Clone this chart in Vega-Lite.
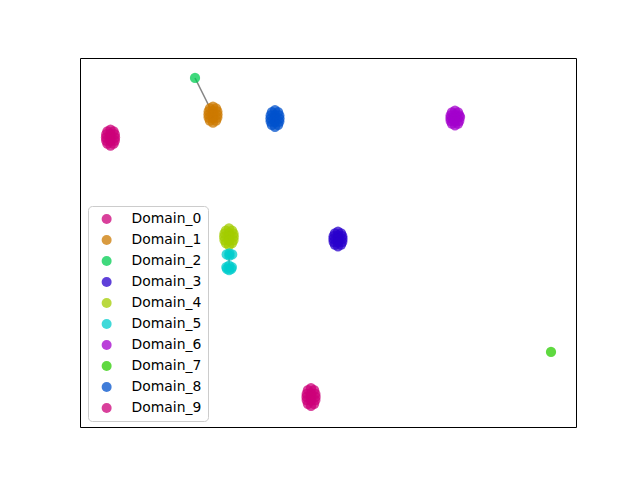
{
  "$schema": "https://vega.github.io/schema/vega-lite/v6.json",
  "width": 496,
  "height": 369,
  "autosize": {"type": "none"},
  "padding": {"left": 80, "top": 58, "right": 64, "bottom": 53},
  "background": "white",
  "config": {
    "view": {"stroke": "black", "strokeWidth": 1},
    "font": "DejaVu Sans"
  },
  "datasets": {
    "points": [
      {"domain": "Domain_0", "x": -35.08, "y": 18.37},
      {"domain": "Domain_0", "x": -35.58, "y": 18.07},
      {"domain": "Domain_0", "x": -34.58, "y": 18.07},
      {"domain": "Domain_0", "x": -35.78, "y": 17.57},
      {"domain": "Domain_0", "x": -35.08, "y": 17.67},
      {"domain": "Domain_0", "x": -34.38, "y": 17.57},
      {"domain": "Domain_0", "x": -35.81, "y": 17.07},
      {"domain": "Domain_0", "x": -35.08, "y": 17.07},
      {"domain": "Domain_0", "x": -34.35, "y": 17.07},
      {"domain": "Domain_0", "x": -35.78, "y": 16.57},
      {"domain": "Domain_0", "x": -35.08, "y": 16.47},
      {"domain": "Domain_0", "x": -34.38, "y": 16.57},
      {"domain": "Domain_0", "x": -35.58, "y": 16.07},
      {"domain": "Domain_0", "x": -34.58, "y": 16.07},
      {"domain": "Domain_0", "x": -35.08, "y": 15.77},
      {"domain": "Domain_1", "x": -18.55, "y": 22.11},
      {"domain": "Domain_1", "x": -19.05, "y": 21.81},
      {"domain": "Domain_1", "x": -18.05, "y": 21.81},
      {"domain": "Domain_1", "x": -19.25, "y": 21.31},
      {"domain": "Domain_1", "x": -18.55, "y": 21.41},
      {"domain": "Domain_1", "x": -17.85, "y": 21.31},
      {"domain": "Domain_1", "x": -19.28, "y": 20.81},
      {"domain": "Domain_1", "x": -18.55, "y": 20.81},
      {"domain": "Domain_1", "x": -17.82, "y": 20.81},
      {"domain": "Domain_1", "x": -19.25, "y": 20.31},
      {"domain": "Domain_1", "x": -18.55, "y": 20.21},
      {"domain": "Domain_1", "x": -17.85, "y": 20.31},
      {"domain": "Domain_1", "x": -19.05, "y": 19.81},
      {"domain": "Domain_1", "x": -18.05, "y": 19.81},
      {"domain": "Domain_1", "x": -18.55, "y": 19.51},
      {"domain": "Domain_2", "x": -21.45, "y": 26.75},
      {"domain": "Domain_3", "x": 1.61, "y": 1.77},
      {"domain": "Domain_3", "x": 1.11, "y": 1.47},
      {"domain": "Domain_3", "x": 2.11, "y": 1.47},
      {"domain": "Domain_3", "x": 0.91, "y": 1.02},
      {"domain": "Domain_3", "x": 1.61, "y": 1.11},
      {"domain": "Domain_3", "x": 2.31, "y": 1.02},
      {"domain": "Domain_3", "x": 0.88, "y": 0.57},
      {"domain": "Domain_3", "x": 1.61, "y": 0.57},
      {"domain": "Domain_3", "x": 2.34, "y": 0.57},
      {"domain": "Domain_3", "x": 0.91, "y": 0.12},
      {"domain": "Domain_3", "x": 1.61, "y": 0.03},
      {"domain": "Domain_3", "x": 2.31, "y": 0.12},
      {"domain": "Domain_3", "x": 1.11, "y": -0.33},
      {"domain": "Domain_3", "x": 2.11, "y": -0.33},
      {"domain": "Domain_3", "x": 1.61, "y": -0.63},
      {"domain": "Domain_4", "x": -15.97, "y": 2.3},
      {"domain": "Domain_4", "x": -16.47, "y": 1.95},
      {"domain": "Domain_4", "x": -15.47, "y": 1.95},
      {"domain": "Domain_4", "x": -16.7, "y": 1.45},
      {"domain": "Domain_4", "x": -15.97, "y": 1.55},
      {"domain": "Domain_4", "x": -15.24, "y": 1.45},
      {"domain": "Domain_4", "x": -16.75, "y": 0.95},
      {"domain": "Domain_4", "x": -15.97, "y": 0.95},
      {"domain": "Domain_4", "x": -15.2, "y": 0.95},
      {"domain": "Domain_4", "x": -16.7, "y": 0.4},
      {"domain": "Domain_4", "x": -15.97, "y": 0.3},
      {"domain": "Domain_4", "x": -15.24, "y": 0.4},
      {"domain": "Domain_4", "x": -16.47, "y": -0.1},
      {"domain": "Domain_4", "x": -15.47, "y": -0.1},
      {"domain": "Domain_4", "x": -15.97, "y": -0.45},
      {"domain": "Domain_5", "x": -16.35, "y": -1.95},
      {"domain": "Domain_5", "x": -15.45, "y": -1.95},
      {"domain": "Domain_5", "x": -15.9, "y": -1.75},
      {"domain": "Domain_5", "x": -15.9, "y": -2.15},
      {"domain": "Domain_5", "x": -16.4, "y": -4.0},
      {"domain": "Domain_5", "x": -15.5, "y": -4.0},
      {"domain": "Domain_5", "x": -15.95, "y": -3.75},
      {"domain": "Domain_5", "x": -15.95, "y": -4.5},
      {"domain": "Domain_5", "x": -16.3, "y": -4.3},
      {"domain": "Domain_5", "x": -15.6, "y": -4.3},
      {"domain": "Domain_6", "x": 20.48, "y": 21.44},
      {"domain": "Domain_6", "x": 19.98, "y": 21.14},
      {"domain": "Domain_6", "x": 20.98, "y": 21.14},
      {"domain": "Domain_6", "x": 19.78, "y": 20.69},
      {"domain": "Domain_6", "x": 20.48, "y": 20.78},
      {"domain": "Domain_6", "x": 21.18, "y": 20.69},
      {"domain": "Domain_6", "x": 19.75, "y": 20.24},
      {"domain": "Domain_6", "x": 20.48, "y": 20.24},
      {"domain": "Domain_6", "x": 21.3, "y": 20.4},
      {"domain": "Domain_6", "x": 19.78, "y": 19.79},
      {"domain": "Domain_6", "x": 20.48, "y": 19.7},
      {"domain": "Domain_6", "x": 21.18, "y": 19.79},
      {"domain": "Domain_6", "x": 19.98, "y": 19.34},
      {"domain": "Domain_6", "x": 20.98, "y": 19.34},
      {"domain": "Domain_6", "x": 20.48, "y": 19.04},
      {"domain": "Domain_7", "x": 35.97, "y": -17.8},
      {"domain": "Domain_8", "x": -8.55, "y": 21.51},
      {"domain": "Domain_8", "x": -9.05, "y": 21.21},
      {"domain": "Domain_8", "x": -8.05, "y": 21.21},
      {"domain": "Domain_8", "x": -9.25, "y": 20.66},
      {"domain": "Domain_8", "x": -8.55, "y": 20.76},
      {"domain": "Domain_8", "x": -7.85, "y": 20.66},
      {"domain": "Domain_8", "x": -9.28, "y": 20.16},
      {"domain": "Domain_8", "x": -8.55, "y": 20.16},
      {"domain": "Domain_8", "x": -7.82, "y": 20.16},
      {"domain": "Domain_8", "x": -9.25, "y": 19.66},
      {"domain": "Domain_8", "x": -8.55, "y": 19.56},
      {"domain": "Domain_8", "x": -7.85, "y": 19.66},
      {"domain": "Domain_8", "x": -9.05, "y": 19.11},
      {"domain": "Domain_8", "x": -8.05, "y": 19.11},
      {"domain": "Domain_8", "x": -8.55, "y": 18.81},
      {"domain": "Domain_9", "x": -2.74, "y": -23.67},
      {"domain": "Domain_9", "x": -3.24, "y": -24.02},
      {"domain": "Domain_9", "x": -2.24, "y": -24.02},
      {"domain": "Domain_9", "x": -3.44, "y": -24.62},
      {"domain": "Domain_9", "x": -2.74, "y": -24.52},
      {"domain": "Domain_9", "x": -2.04, "y": -24.62},
      {"domain": "Domain_9", "x": -3.47, "y": -25.12},
      {"domain": "Domain_9", "x": -2.74, "y": -25.12},
      {"domain": "Domain_9", "x": -2.01, "y": -25.12},
      {"domain": "Domain_9", "x": -3.44, "y": -25.62},
      {"domain": "Domain_9", "x": -2.74, "y": -25.72},
      {"domain": "Domain_9", "x": -2.04, "y": -25.62},
      {"domain": "Domain_9", "x": -3.24, "y": -26.22},
      {"domain": "Domain_9", "x": -2.24, "y": -26.22},
      {"domain": "Domain_9", "x": -2.74, "y": -26.57}
    ],
    "links": [
      {"seg": "a", "i": 0, "x": -21.45, "y": 26.75},
      {"seg": "a", "i": 1, "x": -18.79, "y": 21.38},
      {"seg": "b", "i": 0, "x": -15.95, "y": -1.95},
      {"seg": "b", "i": 1, "x": -15.95, "y": -4.15}
    ]
  },
  "layer": [
    {
      "data": {"name": "links"},
      "mark": {"type": "line", "color": "#777777", "strokeWidth": 1.6, "opacity": 0.9},
      "encoding": {
        "x": {"field": "x", "type": "quantitative", "scale": {"domain": [-40, 40], "nice": false, "zero": false}, "axis": null},
        "y": {"field": "y", "type": "quantitative", "scale": {"domain": [-30, 30], "nice": false, "zero": false}, "axis": null},
        "detail": {"field": "seg"},
        "order": {"field": "i", "type": "quantitative"}
      }
    },
    {
      "data": {"name": "points"},
      "mark": {"type": "circle", "size": 105, "opacity": 0.75},
      "encoding": {
        "x": {"field": "x", "type": "quantitative", "scale": {"domain": [-40, 40], "nice": false, "zero": false}, "axis": null},
        "y": {"field": "y", "type": "quantitative", "scale": {"domain": [-30, 30], "nice": false, "zero": false}, "axis": null},
        "color": {
          "field": "domain",
          "type": "nominal",
          "scale": {
            "domain": ["Domain_0", "Domain_1", "Domain_2", "Domain_3", "Domain_4", "Domain_5", "Domain_6", "Domain_7", "Domain_8", "Domain_9"],
            "range": ["#cc007a", "#cc7a00", "#00cc52", "#2900cc", "#a3cc00", "#00cccc", "#a300cc", "#29cc00", "#0052cc", "#cc007a"]
          },
          "legend": {
            "title": null,
            "orient": "none",
            "legendX": 8,
            "legendY": 148,
            "fillColor": "white",
            "strokeColor": "#cccccc",
            "cornerRadius": 4,
            "padding": 6,
            "symbolType": "circle",
            "symbolSize": 100,
            "symbolOpacity": 0.75,
            "symbolStrokeWidth": 0,
            "symbolOffset": 5.7,
            "labelOffset": 18,
            "labelFont": "DejaVu Sans",
            "labelFontSize": 13.9,
            "labelColor": "black",
            "rowPadding": 6
          }
        }
      }
    }
  ]
}
